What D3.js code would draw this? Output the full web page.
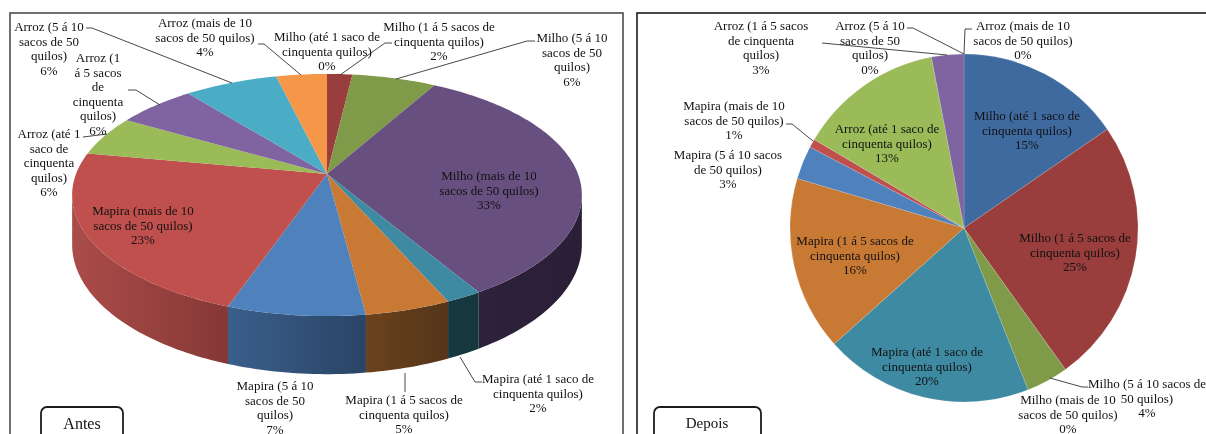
<!DOCTYPE html>
<html><head><meta charset="utf-8">
<script src="https://cdnjs.cloudflare.com/ajax/libs/d3/7.8.5/d3.min.js"></script>
<style>html,body{margin:0;padding:0;background:#fff;overflow:hidden}svg{display:block;filter:blur(0.3px)}text{font-family:"Liberation Serif",serif;fill:#111}</style>
</head><body><svg id="c" width="1206" height="434"></svg>
<script>
const categories=["Milho (até 1 saco de cinquenta quilos)","Milho (1 á 5 sacos de cinquenta quilos)","Milho (5 á 10 sacos de 50 quilos)","Milho (mais de 10 sacos de 50 quilos)","Mapira (até 1 saco de cinquenta quilos)","Mapira (1 á 5 sacos de cinquenta quilos)","Mapira (5 á 10 sacos de 50 quilos)","Mapira (mais de 10 sacos de 50 quilos)","Arroz (até 1 saco de cinquenta quilos)","Arroz (1 á 5 sacos de cinquenta quilos)","Arroz (5 á 10 sacos de 50 quilos)","Arroz (mais de 10 sacos de 50 quilos)"];
// printed percentages
const antesPercents=[0,2,6,33,2,5,7,23,6,6,6,4];
const depoisPercents=[15,25,4,0,20,16,3,1,13,3,0,0];
// slice shares as read from the wedges' widths
const antesShares=[0,1.9,6.3,33.2,1.95,4.6,7.4,22.55,5.4,5.9,7.0,3.8];
const depoisShares=[15.4,24.7,3.9,0,19.4,16.2,3.1,0.8,13.5,3.0,0,0];
const topColors=["#3f6a9f","#993e3c","#7f9a48","#67507f","#3f8aa3","#c87a35","#4f81bd","#c0504d","#9bbb59","#8064a2","#4bacc6","#f59648"];
const sideLeft=["#2a4565","#5e2523","#4f6130","#2d223b","#17393f","#6b431d","#3a5f8c","#ab4c49","#637a38","#4d3c62","#2c6c7d","#9a5e2b"];
const sideRight=["#2a4565","#5e2523","#4f6130","#2a1f36","#17373d","#55341a","#2a4464","#853836","#637a38","#4d3c62","#2c6c7d","#9a5e2b"];
// label line breaks as drawn in each panel, by category index
const antesBreaks=[["Milho (até 1 saco de","cinquenta quilos)"],["Milho (1 á 5 sacos de","cinquenta quilos)"],["Milho (5 á 10","sacos de 50","quilos)"],["Milho (mais de 10","sacos de 50 quilos)"],["Mapira (até 1 saco de","cinquenta quilos)"],["Mapira (1 á 5 sacos de","cinquenta quilos)"],["Mapira (5 á 10","sacos de 50","quilos)"],["Mapira (mais de 10","sacos de 50 quilos)"],["Arroz (até 1","saco de","cinquenta","quilos)"],["Arroz (1","á 5 sacos","de","cinquenta","quilos)"],["Arroz (5 á 10","sacos de 50","quilos)"],["Arroz (mais de 10","sacos de 50 quilos)"]];
const depoisBreaks=[["Milho (até 1 saco de","cinquenta quilos)"],["Milho (1 á 5 sacos de","cinquenta quilos)"],["Milho (5 á 10 sacos de","50 quilos)"],["Milho (mais de 10","sacos de 50 quilos)"],["Mapira (até 1 saco de","cinquenta quilos)"],["Mapira (1 á 5 sacos de","cinquenta quilos)"],["Mapira (5 á 10 sacos","de 50 quilos)"],["Mapira (mais de 10","sacos de 50 quilos)"],["Arroz (até 1 saco de","cinquenta quilos)"],["Arroz (1 á 5 sacos","de cinquenta","quilos)"],["Arroz (5 á 10","sacos de 50","quilos)"],["Arroz (mais de 10","sacos de 50 quilos)"]];
// layout: label centre x and first-line centre y, by category index
const antesLabelPos=[[327,37],[439,27],[572,38],[489,176],[538,379],[404,400],[275,386],[143,211],[49,134],[98,58],[49,27],[205,23]];
const depoisLabelPos=[[1027,116],[1075,238],[1147,384],[1068,400],[927,352],[855,241],[728,155],[734,106],[887,129],[761,26],[870,26],[1023,26]];
const antesLeaders=[[[392,43],[385,43],[340,75]],[[535,41],[527,41],[396,79]],[[460,357],[475,382],[482,382]],[[405,373],[405,392]],[[83,137],[107,134]],[[128,90],[136,90],[160,105]],[[86,28],[92,28],[232,83]],[[258,44],[264,44],[301,75]]];
const depoisLeaders=[[[822,43],[947,55]],[[907,28],[913,28],[964,54]],[[972,29],[965,29],[964,54]],[[786,124],[792,124],[813,141]],[[1050,378],[1082,387],[1088,387]]];

const svg=d3.select("#c");
const lineH=14.5,fs=13;
const pie=d3.pie().sort(null).value(d=>d);
const pct=d=>d+"%";
// frames
svg.append("rect").attr("x",10).attr("y",13).attr("width",613).attr("height",460).attr("fill","#fff").attr("stroke","#4d4d4d").attr("stroke-width",1.6);
svg.append("rect").attr("x",637).attr("y",13).attr("width",620).attr("height",460).attr("fill","#fff").attr("stroke","#1c1c1c").attr("stroke-width",1.6);

// ---- Antes: perspective-tilted 3D disc
const P={cx:327,cy:174,A:251,B:117.4,k:0.1736,depth:48};
const proj=a=>{const u=Math.sin(a),v=-Math.cos(a),w=1-P.k*v;return {x:P.cx+P.A*u/w,y:P.cy+P.B*v/w,w};};
const samples=(a0,a1)=>{const n=Math.max(2,Math.ceil((a1-a0)/0.02));return d3.range(n+1).map(i=>a0+(a1-a0)*i/n);};
const line=d3.line().curve(d3.curveLinear);
const arcsA=pie(antesShares);
const aR=Math.acos(-P.k),aL=2*Math.PI-aR;
const defs=svg.append("defs");
const gA=svg.append("g");
arcsA.forEach((d,i)=>{
  const a0=Math.max(d.startAngle,aR),a1=Math.min(d.endAngle,aL);
  if(a1<=a0) return;
  const id="side"+i;
  const g=defs.append("linearGradient").attr("id",id);
  g.append("stop").attr("offset",0).attr("stop-color",sideLeft[i]);
  g.append("stop").attr("offset",1).attr("stop-color",sideRight[i]);
  const s=samples(a0,a1).map(proj);
  const top=s.map(p=>[p.x,p.y]);
  const bot=s.map(p=>[p.x,p.y+P.depth/p.w]).reverse();
  gA.append("path").attr("d",line(top.concat(bot))+"Z").attr("fill",`url(#${id})`);
});
arcsA.forEach((d,i)=>{
  if(d.value===0) return;
  const pts=[[P.cx,P.cy]].concat(samples(d.startAngle,d.endAngle).map(proj).map(p=>[p.x,p.y]));
  gA.append("path").attr("d",line(pts)+"Z").attr("fill",topColors[i]);
});

// ---- Depois: flat pie
const arc=d3.arc().innerRadius(0).outerRadius(174);
svg.append("g").attr("transform","translate(964,228)").selectAll("path").data(pie(depoisShares)).join("path")
  .attr("d",arc).attr("fill",(d,i)=>topColors[i]).attr("stroke","#fff").attr("stroke-opacity",.25).attr("stroke-width",d=>d.value?0.6:0);

// ---- leaders
const drawLeaders=(ls,c)=>svg.append("g").selectAll("path").data(ls).join("path").attr("d",d=>line(d)).attr("fill","none").attr("stroke",c).attr("stroke-width",.9);
drawLeaders(antesLeaders,"#333");
drawLeaders(depoisLeaders,"#333");

// ---- labels
function labels(vals,breaks,pos){
  vals.forEach((v,i)=>{
    const t=svg.append("text").attr("text-anchor","middle").attr("font-size",fs);
    breaks[i].concat([pct(v)]).forEach((s,j)=>{
      t.append("tspan").attr("x",pos[i][0]).attr("y",pos[i][1]+j*lineH+4).text(s);
    });
  });
}
labels(antesPercents,antesBreaks,antesLabelPos);
labels(depoisPercents,depoisBreaks,depoisLabelPos);

// ---- boxes
[["Antes",41,82,82,424],["Depois",654,107,707,423]].forEach(([t,x,w,tx,ty])=>{
  svg.append("rect").attr("x",x).attr("y",407).attr("width",w).attr("height",50).attr("rx",6).attr("fill","#fff").attr("stroke","#1c1c1c").attr("stroke-width",1.8);
  svg.append("text").attr("x",tx).attr("y",ty+5).attr("text-anchor","middle").attr("font-size",t==="Antes"?16:15).text(t);
});
</script></body></html>
